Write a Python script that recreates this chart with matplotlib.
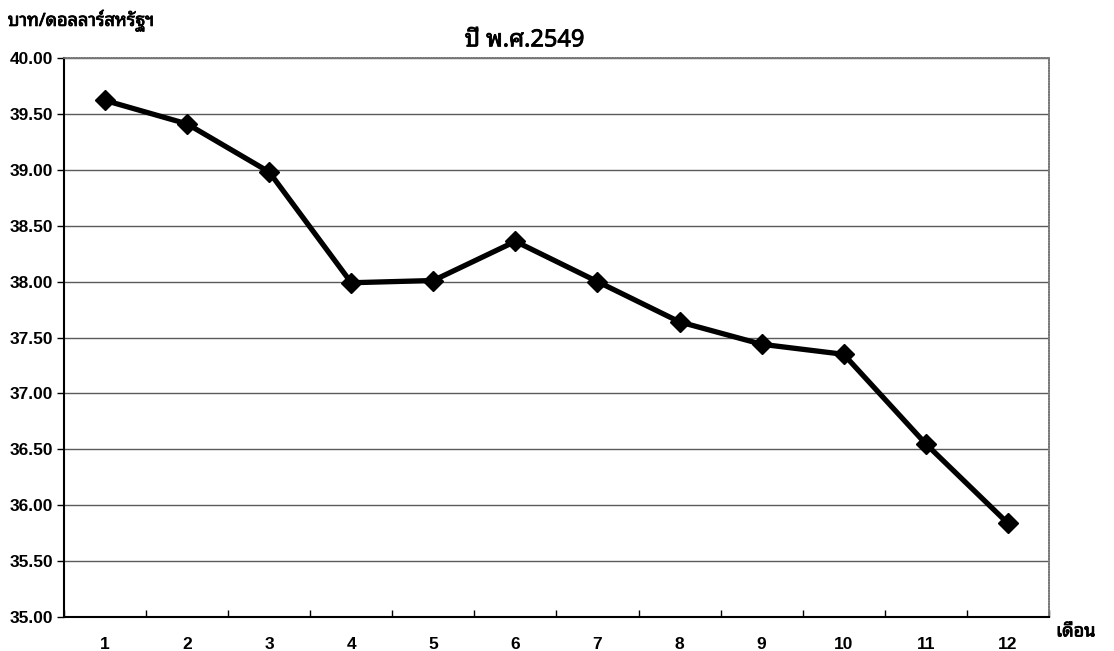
import matplotlib
matplotlib.use("Agg")
import matplotlib.pyplot as plt
from matplotlib import font_manager, patheffects
from matplotlib.ft2font import FT2Font

# Monthly average exchange rate, Thai baht per US dollar, 2006 (B.E. 2549)
months = ["1", "2", "3", "4", "5", "6", "7", "8", "9", "10", "11", "12"]
rates = [39.62, 39.41, 38.98, 37.99, 38.01, 38.36, 38.00, 37.64, 37.44, 37.35, 36.55, 35.84]
y_ticks = [35.00, 35.50, 36.00, 36.50, 37.00, 37.50, 38.00, 38.50, 39.00, 39.50, 40.00]

title_text = "ปี พ.ศ.2549"
y_label_text = "บาท/ดอลลาร์สหรัฐฯ"
x_label_text = "เดือน"


def find_thai_family():
    """Pick an installed family that covers the Thai block."""
    preferred = []
    others = []
    for entry in font_manager.fontManager.ttflist:
        try:
            cmap = FT2Font(entry.fname).get_charmap()
        except Exception:
            continue
        if 0x0E1A in cmap and 0x0E40 in cmap:
            name = entry.name
            if "Thai" in name and "Looped" in name:
                preferred.insert(0, name)
            elif "Thai" in name:
                preferred.append(name)
            else:
                others.append(name)
    for name in preferred + others:
        return name
    return "DejaVu Sans"


thai_family = find_thai_family()
num_family = "Liberation Sans"
heavy = [patheffects.withStroke(linewidth=0.6, foreground="black")]

fig = plt.figure(figsize=(11.14, 6.51), dpi=100)
ax = fig.add_axes([0.0575, 0.052, 0.884, 0.859])

x = list(range(len(months)))
ax.plot(x, rates, color="black", lw=3.8, marker="D", markersize=10,
        markerfacecolor="black", markeredgecolor="black", zorder=3,
        solid_joinstyle="miter")

ax.set_xlim(-0.5, len(months) - 0.5)
ax.set_ylim(35.0, 40.0)
ax.set_yticks(y_ticks)
ax.set_yticklabels([f"{v:.2f}" for v in y_ticks], fontfamily=num_family,
                   fontweight="bold", fontsize=12.5)
ax.set_xticks(x)
ax.set_xticklabels(months, fontfamily=num_family, fontweight="bold", fontsize=12.5)
ax.set_xticks([i - 0.5 for i in range(len(months) + 1)], minor=True)

ax.tick_params(axis="x", which="major", length=0, pad=14)
ax.tick_params(axis="x", which="minor", length=5, width=1, direction="in")
ax.tick_params(axis="y", which="major", length=5, width=1, direction="out", pad=3)

ax.grid(axis="y", color="#5a5a5a", lw=1.0, zorder=1)
ax.set_axisbelow(True)

for side in ("left", "bottom"):
    ax.spines[side].set_color("black")
    ax.spines[side].set_linewidth(1.5)
for side in ("top", "right"):
    ax.spines[side].set_color("#777777")
    ax.spines[side].set_linewidth(1.2)
    ax.spines[side].set_linestyle((0, (1, 0.6)))

fig.text(0.471, 0.938, title_text, fontfamily=thai_family, fontweight="bold",
         fontsize=17, ha="center", va="center", path_effects=heavy)
fig.text(0.007, 0.968, y_label_text, fontfamily=thai_family, fontweight="bold",
         fontsize=13, ha="left", va="center", path_effects=heavy)
fig.text(0.948, 0.030, x_label_text, fontfamily=thai_family, fontweight="bold",
         fontsize=13, ha="left", va="center", path_effects=heavy)

fig.savefig("out.png", dpi=100, facecolor="white")
